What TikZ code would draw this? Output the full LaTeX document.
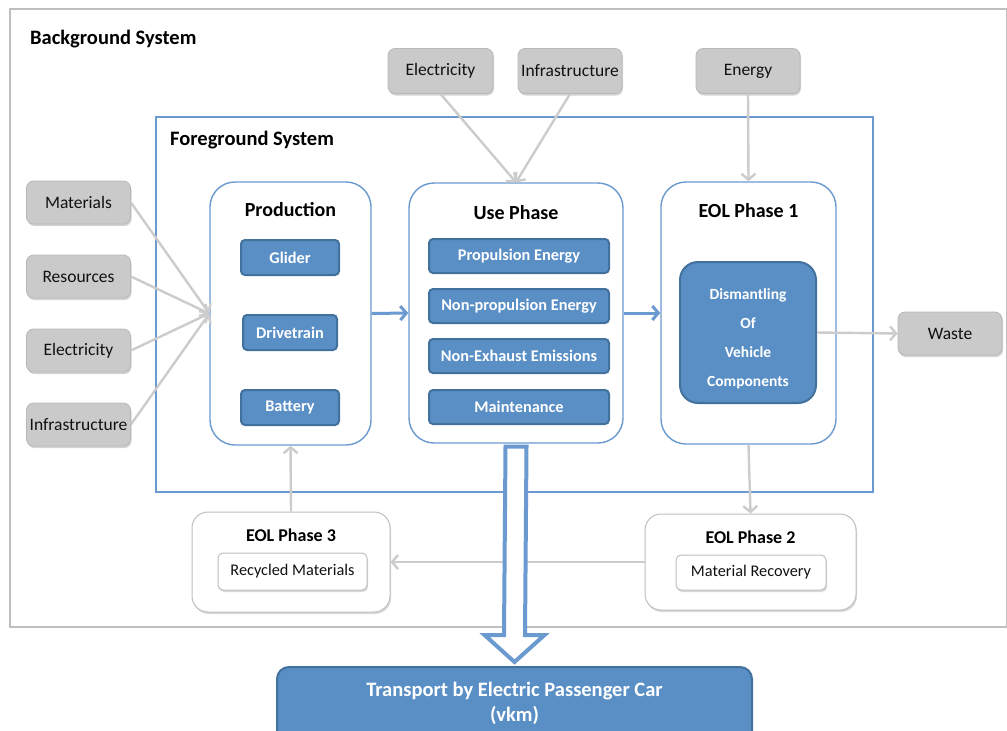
\documentclass[tikz,border=0pt]{standalone}
\usepackage{fontspec}
\setmainfont{Carlito}
\usetikzlibrary{arrows.meta,shadows,calc}
\definecolor{bgline}{HTML}{BFBFBF}
\definecolor{fgblue}{HTML}{6A9AD0}
\definecolor{boxblue}{HTML}{5A8FC6}
\definecolor{boxedge}{HTML}{41719C}
\definecolor{graybox}{HTML}{CACACA}
\definecolor{grayedge}{HTML}{B8B8B8}
\definecolor{arrowgray}{HTML}{CCCCCC}
\definecolor{txt}{HTML}{111111}
\begin{document}
\begin{tikzpicture}[x=1pt,y=-1pt,
  container/.style={draw=fgblue,line width=1.4pt,fill=white,rounded corners=25pt,inner sep=0pt},
  graynode/.style={draw=grayedge,line width=0.8pt,fill=graybox,rounded corners=7pt,inner sep=0pt,
     minimum width=104pt,minimum height=43pt,text=txt,font=\fontsize{17.5}{21}\selectfont,
     drop shadow={shadow xshift=1pt,shadow yshift=-2pt,opacity=0.35,fill=gray}},
  bluenode/.style={draw=boxedge,line width=2pt,fill=boxblue,rounded corners=4pt,inner sep=0pt,
     minimum height=35pt,text=white,font=\bfseries\fontsize{16.3}{19}\selectfont},
  title/.style={font=\bfseries\fontsize{20}{24}\selectfont,text=black,inner sep=0pt},
  subtitle/.style={font=\bfseries\fontsize{18}{22}\selectfont,text=black,inner sep=0pt},
  eolbox/.style={draw=bgline,line width=1pt,fill=white,rounded corners=16pt,inner sep=0pt,
     drop shadow={shadow xshift=1pt,shadow yshift=-2pt,opacity=0.3,fill=gray}},
  whitebox/.style={draw=bgline,line width=1pt,fill=white,rounded corners=5pt,inner sep=0pt,
     text=txt,font=\fontsize{16.3}{19}\selectfont,
     drop shadow={shadow xshift=1pt,shadow yshift=-2pt,opacity=0.3,fill=gray}},
  grayarrow/.style={draw=arrowgray,line width=2.4pt,-{Straight Barb[length=6pt,width=14pt]}},
  bluearrow/.style={draw=fgblue,line width=3pt,-{Straight Barb[length=6pt,width=14pt]}},
]
\useasboundingbox (0,0) rectangle (1007,731);
% background system
\node[draw=bgline,line width=2pt,minimum width=997pt,minimum height=618pt,inner sep=0pt] (bg) at (508,318) {};
\node[title,anchor=west,font=\bfseries\fontsize{20.5}{24}\selectfont] (bgT) at (30,39) {Background System};
% foreground system
\node[draw=fgblue,line width=1.6pt,minimum width=717pt,minimum height=375pt,inner sep=0pt] (fg) at (514.5,304.5) {};
\node[title,anchor=west,font=\bfseries\fontsize{20.5}{24}\selectfont] (fgT) at (170,140) {Foreground System};

% phases
\node[container,minimum width=161pt,minimum height=263pt] (prod) at (290.5,313.5) {};
\node[title] (prodT) at (290.5,210) {Production};
\node[container,minimum width=214pt,minimum height=260pt] (use) at (516,313) {};
\node[title] (useT) at (516,213) {Use Phase};
\node[container,minimum width=175pt,minimum height=262pt] (eol1) at (748.5,313) {};
\node[title] (eol1T) at (748.5,211) {EOL Phase 1};

% production subs
\node[bluenode,minimum width=98pt] (glider) at (290,257.5) {Glider};
\node[bluenode,minimum width=94pt] (drive) at (290,332.5) {Drivetrain};
\node[bluenode,minimum width=98pt] (battery) at (290,407.5) {Battery};
% use subs
\node[bluenode,minimum width=180pt,minimum height=34pt] (prop) at (519,256) {Propulsion Energy};
\node[bluenode,minimum width=180pt,minimum height=34pt] (nonprop) at (519,306) {Non-propulsion Energy};
\node[bluenode,minimum width=180pt,minimum height=34pt] (nonex) at (519,356) {Non-Exhaust Emissions};
\node[bluenode,minimum width=180pt,minimum height=34pt] (maint) at (519,407) {Maintenance};
% dismantling
\node[bluenode,minimum width=136pt,minimum height=141pt,rounded corners=18pt,inner sep=0pt] (dism) at (748,332.5) {};
\node[align=center,text=white,font=\bfseries\fontsize{15.5}{29}\selectfont,inner sep=0pt] (dismT) at (748,338.5)
   {Dismantling\\Of\\Vehicle\\Components};

% gray input nodes
\node[graynode] (mat) at (78.5,202.5) {Materials};
\node[graynode] (res) at (78.5,276.5) {Resources};
\node[graynode] (elecL) at (78.5,350.5) {Electricity};
\node[graynode] (infL) at (78.5,424.5) {Infrastructure};
\node[graynode,minimum width=105pt,minimum height=45pt] (elecT) at (440.5,71) {Electricity};
\node[graynode,minimum height=45pt] (infT) at (570,71) {Infrastructure};
\node[graynode,minimum height=45pt] (energy) at (748,71) {Energy};
\node[graynode] (waste) at (950,333.5) {Waste};

% EOL 2 and 3
\node[eolbox,minimum width=211pt,minimum height=96pt] (eol2) at (750.5,562) {};
\node[subtitle] (eol2T) at (750.5,537) {EOL Phase 2};
\node[whitebox,minimum width=150pt,minimum height=35pt] (matrec) at (751,572.5) {Material Recovery};
\node[eolbox,minimum width=198pt,minimum height=100pt] (eol3) at (291,562) {};
\node[subtitle] (eol3T) at (291,535) {EOL Phase 3};
\node[whitebox,minimum width=149pt,minimum height=37pt] (recyc) at (292.5,571.5) {Recycled Materials};

% transport
\node[draw=boxedge,line width=2pt,fill=boxblue,rounded corners=12pt,minimum width=475pt,minimum height=78pt,
      inner sep=0pt] (tr) at (514.5,706) {};
\node[text=white,font=\bfseries\fontsize{20.5}{25}\selectfont,align=center,inner sep=0pt] (trT) at (514.5,703)
      {Transport by Electric Passenger Car\\(vkm)};

% gray arrows
\draw[grayarrow] (mat.east) -- (prod.west);
\draw[grayarrow] (res.east) -- (prod.west);
\draw[grayarrow] (elecL.east) -- (prod.west);
\draw[grayarrow] (infL.east) -- (prod.west);
\draw[grayarrow] (elecT.south) -- (use.north);
\draw[grayarrow] (infT.south) -- (use.north);
\draw[grayarrow] (energy.south) -- (eol1.north);
\draw[grayarrow] (dism.east) -- (waste.west);
\draw[grayarrow] (eol1.south) -- (eol2.north);
\draw[grayarrow] (eol2.west) -- (eol3.east);
\draw[grayarrow] (eol3.north) -- (prod.south);
% blue arrows
\draw[bluearrow] (prod.east) -- (use.west);
\draw[bluearrow] (use.east) -- (eol1.west);
% big hollow arrow
\coordinate (a0) at ($(use.south)+(0,3)$);
\coordinate (a1) at ($(tr.north)+(0,-4)$);
\draw[draw=fgblue,line width=4pt,fill=white,line join=miter]
  ($(a0)+(-10.5,0)$) -- ($(a0)+(10.5,0)$) -- ($(a1)+(10.5,-27)$) -- ($(a1)+(30,-27)$) -- (a1)
  -- ($(a1)+(-30,-27)$) -- ($(a1)+(-10.5,-27)$) -- cycle;
\end{tikzpicture}
\end{document}
